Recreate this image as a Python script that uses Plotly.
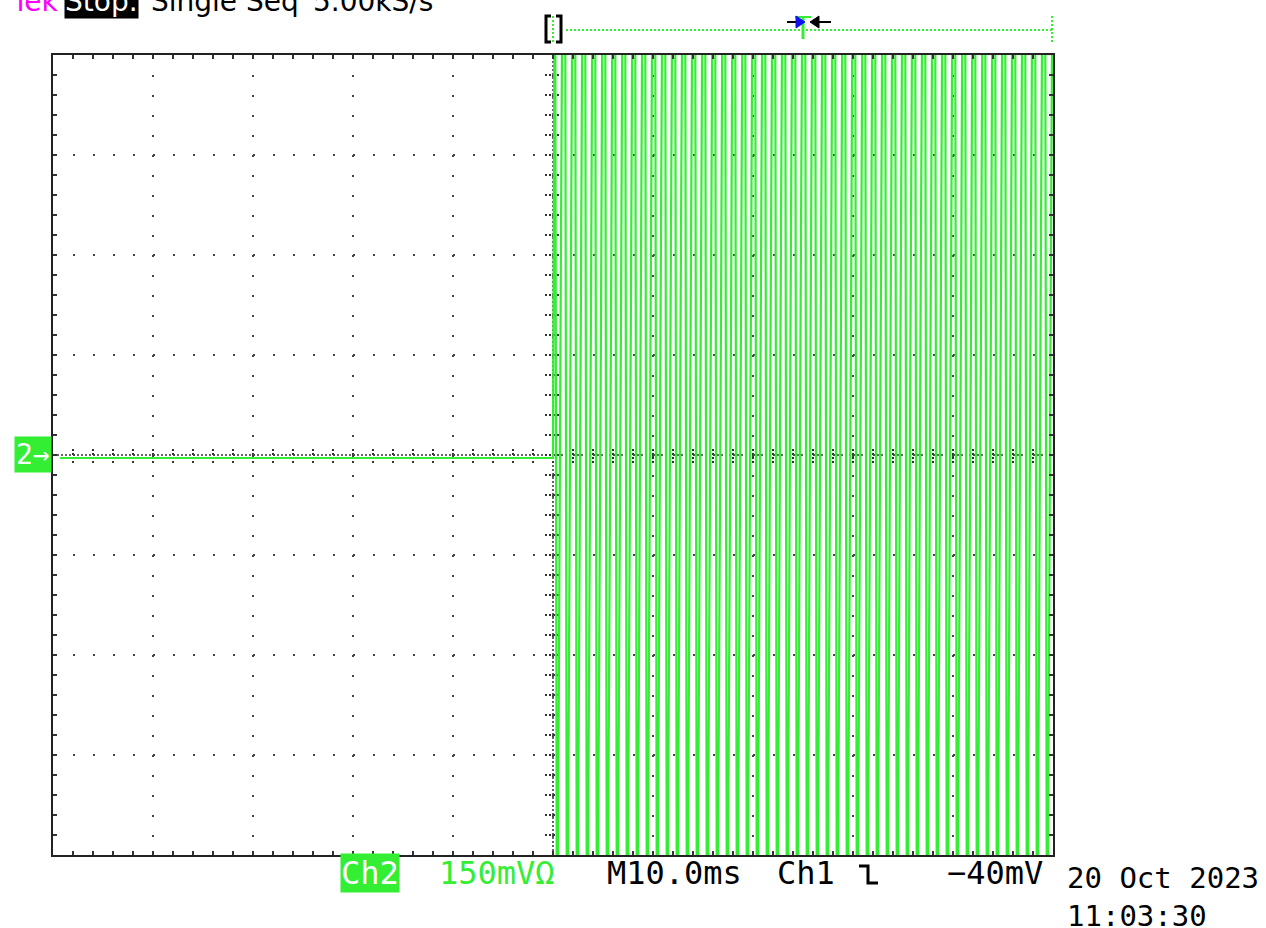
import numpy as np
import plotly.graph_objects as go

# ---------------- data (mV vs ms) ----------------
SAMPLE_MS = 0.2
PRE_T = [-49.3, 0.0]
PRE_MV = [-4.5, -4.5]

# lower / upper intermediate sample of each 1 ms cycle
CYCLE_LO = [-300, -310, -325, -340, -350, -345, -335, -320, -305, -295, -290, -292, -298,
            -305, -318, -332, -345, -350, -342, -330, -315, -302, -294, -290, -295, -300,
            -312, -328, -342, -350, -346, -334, -318, -304, -295, -290, -293, -299, -308,
            -322, -338, -348, -348, -336, -322, -308, -297, -291, -294, -302]
CYCLE_HI = [330, 300, 260, 225, 200, 195, 210, 245, 285, 320, 340, 338, 325,
            305, 268, 232, 205, 192, 205, 238, 278, 315, 338, 340, 330, 310,
            275, 238, 208, 193, 200, 232, 270, 310, 335, 341, 332, 314, 282,
            245, 212, 195, 198, 228, 265, 305, 332, 340, 335, 318]
CLIP_HIGH = 900
CLIP_LOW = -900

post_mv = []
for lo, hi in zip(CYCLE_LO, CYCLE_HI):
    post_mv += [CLIP_HIGH, CLIP_LOW, lo, hi, CLIP_HIGH]
post_t = list(SAMPLE_MS * (np.arange(len(post_mv)) + 1))

t_all = PRE_T + post_t
mv_all = PRE_MV + post_mv

GREEN = "#33ee33"
DOT = "#444444"
FONT = "DejaVu Sans, Liberation Sans, sans-serif"
MONO = "DejaVu Sans Mono, Liberation Mono, monospace"

L, T, W, H = 53, 55, 1000, 800
FIG_W, FIG_H = 1266, 928


def px(xp):
    return (xp - L) / W


def py(yp):
    return (T + H - yp) / H


fig = go.Figure()
fig.add_trace(go.Scatter(x=t_all, y=mv_all, mode="lines",
                         line=dict(color=GREEN, width=2.2, simplify=False),
                         hoverinfo="skip", showlegend=False))

axis_common = dict(showticklabels=False, zeroline=False, showline=True,
                   linecolor="#222222", linewidth=2, mirror="allticks",
                   ticks="inside", ticklen=4, tickwidth=2, tickcolor="#333333",
                   showgrid=True, gridcolor=DOT, gridwidth=2, griddash="2px,18px",
                   fixedrange=True)
fig.update_xaxes(range=[-50, 50], dtick=10, tick0=0,
                 minor=dict(dtick=2, tick0=0, ticks="inside", ticklen=4, tickwidth=2,
                            tickcolor="#333333", showgrid=False),
                 **axis_common)
fig.update_yaxes(range=[-600, 600], dtick=150, tick0=0,
                 minor=dict(dtick=30, tick0=0, ticks="inside", ticklen=4, tickwidth=2,
                            tickcolor="#333333", showgrid=False),
                 **axis_common)

shapes = []
# centre cross (denser dotted) with tick marks
shapes.append(dict(type="line", xref="x", yref="y", x0=-50, x1=50, y0=0, y1=0,
                   line=dict(color="#333333", width=1.5, dash="2px,2px"), layer="below"))
shapes.append(dict(type="line", xref="x", yref="y", x0=0, x1=0, y0=-600, y1=600,
                   line=dict(color="#333333", width=1.5, dash="2px,2px"), layer="below"))
for xv in np.arange(-48, 49, 2):
    shapes.append(dict(type="line", xref="x", yref="y", x0=xv, x1=xv, y0=-12, y1=12,
                       line=dict(color="#333333", width=2, dash="2px,2px"), layer="below"))
for yv in np.arange(-570, 571, 30):
    shapes.append(dict(type="line", xref="x", yref="y", x0=-0.8, x1=0.8, y0=yv, y1=yv,
                       line=dict(color="#333333", width=2, dash="2px,2px"), layer="below"))

# record bar at top
shapes.append(dict(type="line", xref="paper", yref="paper", x0=px(566), x1=px(1052),
                   y0=py(30), y1=py(30), line=dict(color=GREEN, width=2, dash="2px,2px")))
shapes.append(dict(type="line", xref="paper", yref="paper", x0=px(1052), x1=px(1052),
                   y0=py(16), y1=py(42), line=dict(color=GREEN, width=2, dash="2px,2px")))
shapes.append(dict(type="line", xref="paper", yref="paper", x0=px(553), x1=px(553),
                   y0=py(16), y1=py(42), line=dict(color=GREEN, width=2, dash="2px,2px")))
# trigger position marker
shapes.append(dict(type="line", xref="paper", yref="paper", x0=px(803), x1=px(803),
                   y0=py(16), y1=py(39), line=dict(color=GREEN, width=3)))
shapes.append(dict(type="line", xref="paper", yref="paper", x0=px(795), x1=px(811),
                   y0=py(17), y1=py(17), line=dict(color=GREEN, width=2)))
shapes.append(dict(type="line", xref="paper", yref="paper", x0=px(787), x1=px(797),
                   y0=py(22), y1=py(22), line=dict(color="black", width=2)))
shapes.append(dict(type="path", xref="paper", yref="paper",
                   path=f"M {px(796)} {py(16)} L {px(805)} {py(22)} L {px(796)} {py(28)} Z",
                   fillcolor="#1010ee", line=dict(color="#1010ee", width=1)))
shapes.append(dict(type="path", xref="paper", yref="paper",
                   path=f"M {px(819)} {py(16)} L {px(810)} {py(22)} L {px(819)} {py(28)} Z",
                   fillcolor="black", line=dict(color="black", width=1)))
shapes.append(dict(type="line", xref="paper", yref="paper", x0=px(818), x1=px(831),
                   y0=py(22), y1=py(22), line=dict(color="black", width=2)))
# falling-edge trigger symbol
shapes.append(dict(type="path", xref="paper", yref="paper",
                   path=(f"M {px(859)} {py(866)} L {px(868)} {py(866)} L {px(868)} {py(883)} "
                         f"L {px(878)} {py(883)}"),
                   line=dict(color="black", width=3)))
# record bracket
shapes.append(dict(type="path", xref="paper", yref="paper",
                   path=(f"M {px(551)} {py(16)} L {px(546)} {py(16)} L {px(546)} {py(42)} "
                         f"L {px(551)} {py(42)}"),
                   line=dict(color="black", width=3)))
shapes.append(dict(type="path", xref="paper", yref="paper",
                   path=(f"M {px(556)} {py(16)} L {px(561)} {py(16)} L {px(561)} {py(42)} "
                         f"L {px(556)} {py(42)}"),
                   line=dict(color="black", width=3)))

ann = []


def text(xp, yp, s, color="black", size=28, family=FONT, xanchor="left", bg=None, pad=0):
    d = dict(x=px(xp), y=py(yp), xref="paper", yref="paper", text=s, showarrow=False,
             xanchor=xanchor, yanchor="middle",
             font=dict(color=color, size=size, family=family), borderpad=pad)
    if bg:
        d["bgcolor"] = bg
    ann.append(d)


# header (cut at the top of the screen, as on the scope)
text(10, 1, "Tek", color="#ff00ff")
text(64, 1, "Stop.", color="white", bg="black")
text(150, 1, "Single Seq")
text(312, 1, "5.00kS/s")
# channel marker
text(52, 454, "2→", color="white", size=28, family=MONO, xanchor="right", bg=GREEN, pad=1)
# status line
text(340, 873, "Ch2", color="white", size=32, family=MONO, bg=GREEN)
text(438, 873, "150mVΩ", color=GREEN, size=32, family=MONO)
text(606, 873, "M10.0ms", size=32, family=MONO)
text(776, 873, "Ch1", size=32, family=MONO)
text(1044, 873, "−40mV", size=32, family=MONO, xanchor="right")
text(1066, 878, "20 Oct 2023", size=29, family=MONO)
text(1066, 916, "11:03:30", size=29, family=MONO)

fig.update_layout(width=FIG_W, height=FIG_H, autosize=False,
                  margin=dict(l=L, r=FIG_W - L - W, t=T, b=FIG_H - T - H, pad=0),
                  paper_bgcolor="white", plot_bgcolor="white",
                  shapes=shapes, annotations=ann, showlegend=False, template="none")

fig.write_html("out.html", post_script="document.body.style.margin='0px';",
               config={"displayModeBar": False})
